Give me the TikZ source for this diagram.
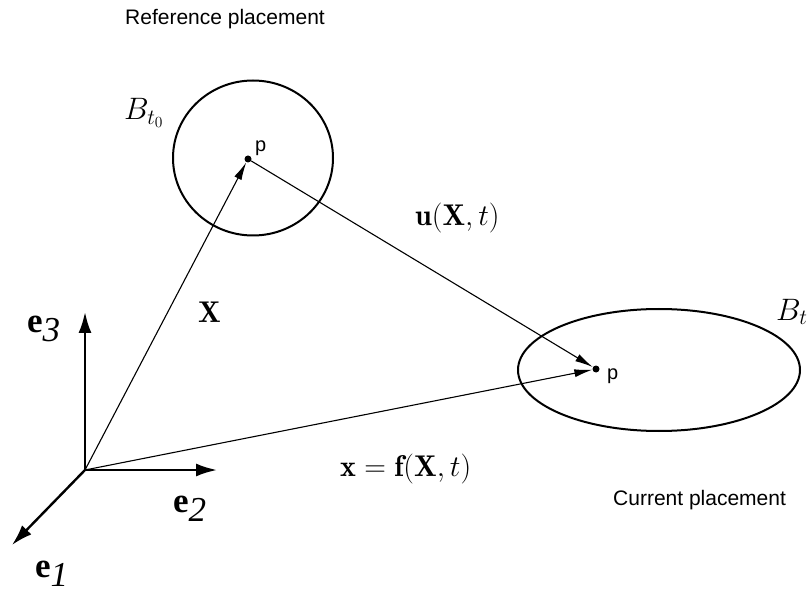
\RequirePackage{fix-cm}
\documentclass[tikz,border=0pt]{standalone}
\usepackage{amsmath}
\usepackage{fontspec}
\usetikzlibrary{arrows.meta}
\newfontfamily\sanslabel{Liberation Sans}
\newfontfamily\serifaxis{Liberation Serif}
\newcommand{\mathbig}{\fontsize{30}{36}\selectfont}
\newcommand{\bodybig}{\fontsize{31}{36}\selectfont}
\newcommand{\axislabel}[1]{{\serifaxis\bfseries e}\raisebox{-9pt}{\serifaxis\itshape #1}}

\begin{document}
\begin{tikzpicture}[x=1pt,y=-1pt,
    dot/.style={circle,fill,inner sep=0pt,minimum size=7pt},
    lbl/.style={inner sep=0pt,anchor=base west},
    vec/.style={line width=1.1pt,-{Latex[length=18pt,width=8pt]}},
    axis/.style={line width=2.4pt,-{Latex[length=21pt,width=13pt]}},
    body/.style={line width=2pt}]
    \useasboundingbox (0,0) rectangle (808,593);

    % -----------------------------------------------------
    % 1) Ejes e1, e2, e3
    % -----------------------------------------------------
    \coordinate (O) at (85,470);
    \coordinate (E3) at (85,312);
    \coordinate (E2) at (217,470);
    \coordinate (E1) at (12,545);
    \draw[axis] (O) -- (E3);
    \draw[axis] (O) -- (E2);
    \draw[axis] (O) -- (E1);
    \node[lbl] (le3) at (27,333) {\fontsize{35}{40}\selectfont\axislabel{3}};
    \node[lbl] (le2) at (173,512) {\fontsize{35}{40}\selectfont\axislabel{2}};
    \node[lbl] (le1) at (35,577) {\fontsize{35}{40}\selectfont\axislabel{1}};

    % -----------------------------------------------------
    % 2) Configuracion de referencia B_{t0}
    % -----------------------------------------------------
    \draw[body] (253,158) ellipse (80 and 77.5);
    \node[dot] (P0) at (248,159) {};
    \node[lbl] (lp0) at (255,152) {\fontsize{20}{24}\selectfont\sanslabel p};
    \node[lbl] (lB0) at (124,120) {\bodybig$B_{t_0}$};
    \node[lbl] (lref) at (125,25) {\fontsize{21}{25}\selectfont\sanslabel Reference placement};

    % -----------------------------------------------------
    % 3) Configuracion actual B_t
    % -----------------------------------------------------
    \draw[body] (659,370) ellipse (141 and 61);
    \node[dot] (P) at (596,369) {};
    \node[lbl] (lp) at (607,379) {\fontsize{20}{24}\selectfont\sanslabel p};
    \node[lbl] (lB) at (776,320) {\bodybig$B_t$};
    \node[lbl] (lcur) at (613,505) {\fontsize{21}{25}\selectfont\sanslabel Current placement};

    % -----------------------------------------------------
    % 4) Vectores X, x y desplazamiento u
    % -----------------------------------------------------
    \draw[vec] (O) -- (P0);
    \draw[vec] (O) -- (P);
    \draw[vec] (P0) -- (P);
    \node[lbl] (lX) at (198,323) {\mathbig$\mathbf{X}$};
    \node[lbl] (lu) at (415,226) {\mathbig$\mathbf{u}(\mathbf{X},t)$};
    \node[lbl] (lx) at (340,476) {\mathbig$\mathbf{x}=\mathbf{f}(\mathbf{X},t)$};

\end{tikzpicture}
\end{document}
